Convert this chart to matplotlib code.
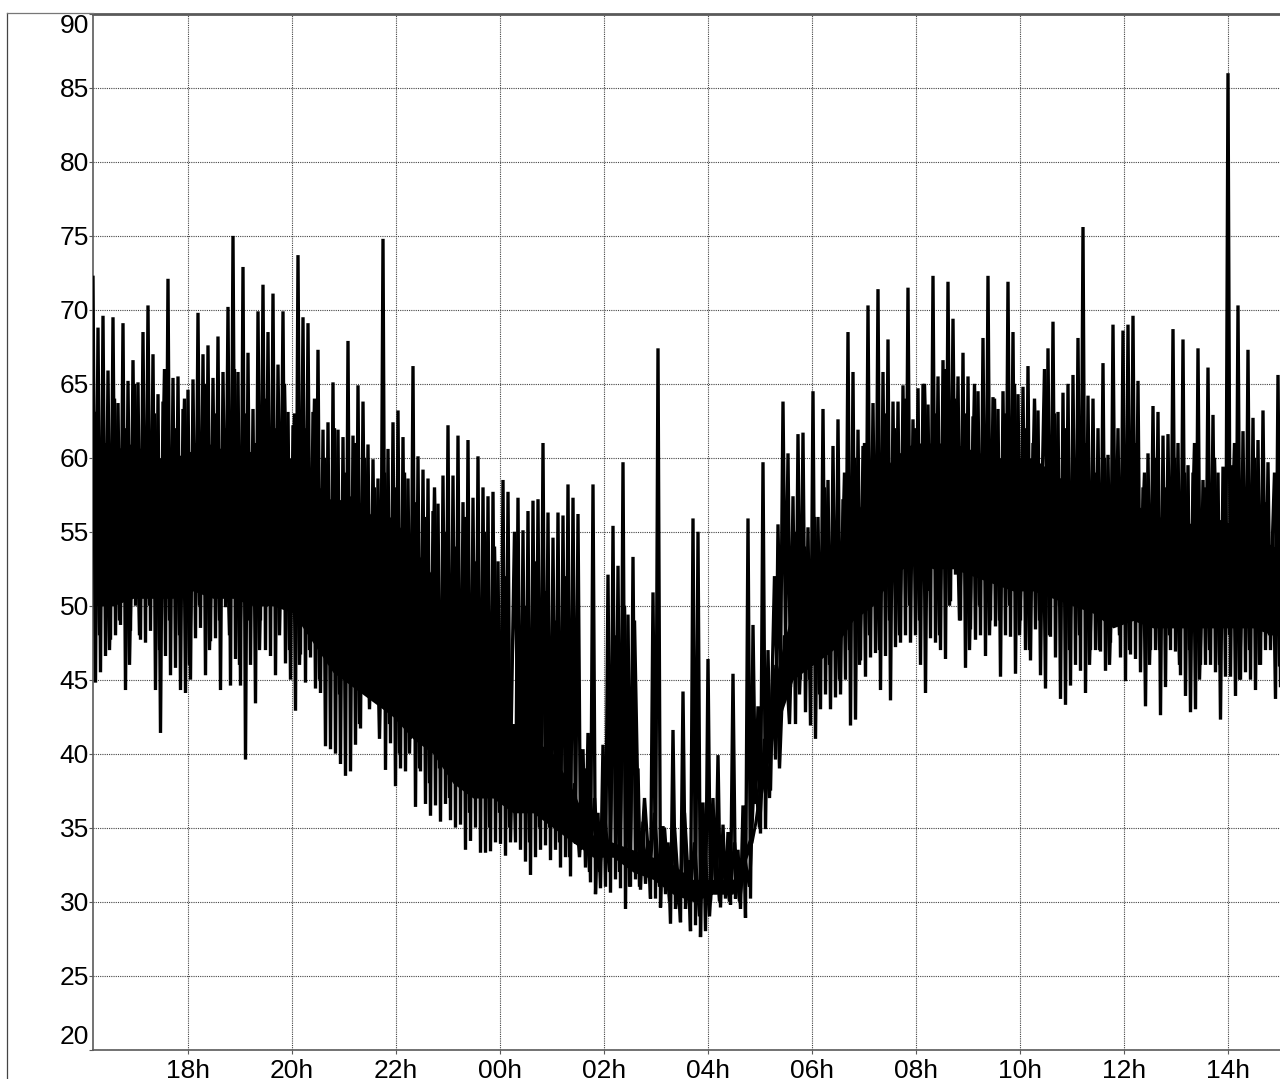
import matplotlib
matplotlib.use("Agg")
import numpy as np
import matplotlib.pyplot as plt
from matplotlib.lines import Line2D

plt.rcParams['font.family'] = ['Liberation Sans', 'DejaVu Sans']

# upper and lower swings of the trace, left to right
peaks = [
    72.2, 68.8, 69.6, 65.9, 69.5, 63.7, 69.1, 65.2, 66.6, 65.1,
    68.5, 70.3, 67.0, 64.3, 63.8, 72.1, 65.4, 65.5, 63.3, 64.6,
    65.3, 69.8, 67.0, 67.6, 65.4, 68.2, 65.8, 70.2, 75.0, 65.8,
    72.9, 67.1, 63.3, 69.9, 71.7, 68.5, 71.1, 66.3, 69.9, 63.1,
    62.2, 73.7, 69.5, 69.1, 63.1, 67.3, 61.9, 62.4, 65.1, 61.9,
    61.4, 67.9, 61.5, 64.9, 63.8, 60.9, 59.9, 58.6, 74.8, 60.6,
    62.4, 63.2, 61.4, 58.6, 66.2, 60.1, 59.2, 58.6, 56.4, 56.9,
    58.8, 62.2, 58.8, 61.5, 57.0, 61.2, 57.3, 60.1, 58.0, 57.4,
    57.7, 53.0, 58.5, 57.7, 42.0, 57.3, 55.1, 56.4, 57.1, 57.2,
    61.0, 56.3, 54.6, 56.3, 56.1, 58.2, 57.3, 56.2, 40.3, 41.4,
    58.2, 36.0, 40.6, 52.1, 55.4, 52.7, 59.7, 49.4, 53.3, 39.0,
    35.4, 34.1, 50.9, 67.4, 35.1, 34.0, 41.6, 31.5, 44.2, 32.8,
    55.9, 55.0, 36.7, 46.4, 37.0, 39.9, 35.2, 34.7, 45.4, 33.5,
    36.5, 55.9, 48.7, 43.2, 59.7, 47.0, 46.0, 55.5, 63.8, 60.3,
    57.4, 61.6, 61.7, 55.3, 64.5, 56.0, 63.3, 58.5, 60.8, 62.6,
    57.2, 68.5, 65.8, 61.9, 60.8, 70.3, 63.7, 71.4, 65.8, 68.0,
    63.8, 63.8, 64.9, 71.5, 62.6, 64.7, 65.0, 63.6, 72.3, 65.5,
    66.6, 71.9, 69.4, 65.5, 67.1, 65.5, 62.8, 64.5, 68.1, 72.3,
    64.1, 63.3, 64.5, 71.9, 68.5, 64.3, 64.8, 66.2, 61.0, 63.2,
    59.1, 67.4, 69.2, 63.1, 64.4, 65.0, 65.6, 68.1, 75.6, 64.2,
    64.0, 62.0, 66.4, 60.2, 69.0, 62.0, 68.6, 69.0, 69.6, 65.2,
    58.0, 60.3, 63.5, 63.1, 61.5, 61.6, 68.7, 61.0, 68.0, 59.5,
    59.0, 67.4, 58.5, 66.1, 62.9, 59.0, 59.4, 86.0, 59.5, 70.3,
    61.8, 67.3, 62.7, 61.2, 63.2, 59.7, 55.0, 65.6,
]
troughs = [
    44.8, 45.5, 46.6, 47.7, 48.0, 48.7, 44.3, 48.3, 50.0, 47.7,
    47.5, 48.3, 44.3, 41.4, 46.6, 45.3, 45.8, 44.3, 44.1, 45.0,
    47.8, 48.5, 45.3, 47.6, 47.8, 44.3, 49.9, 44.6, 46.4, 44.6,
    39.6, 46.0, 43.4, 49.0, 47.0, 46.6, 45.3, 51.3, 46.1, 45.0,
    42.9, 46.7, 44.8, 46.5, 44.4, 44.1, 40.5, 40.3, 40.0, 39.3,
    38.5, 38.8, 40.6, 41.7, 45.3, 44.1, 43.7, 43.5, 38.9, 40.7,
    37.8, 39.0, 38.8, 41.0, 36.4, 38.8, 36.6, 35.8, 36.5, 35.4,
    36.6, 35.5, 35.0, 35.2, 33.5, 34.1, 35.0, 33.3, 33.3, 33.4,
    34.0, 33.9, 33.1, 34.0, 34.0, 33.5, 32.7, 31.8, 33.0, 33.5,
    33.8, 32.8, 33.5, 32.3, 33.0, 31.7, 33.9, 33.5, 32.3, 31.3,
    30.5, 30.9, 31.0, 30.6, 31.5, 30.9, 29.5, 31.0, 31.5, 30.8,
    31.2, 30.2, 30.2, 29.6, 30.5, 28.5, 29.5, 28.6, 29.5, 28.0,
    28.4, 27.6, 28.0, 30.0, 30.5, 29.6, 30.2, 29.8, 30.2, 29.5,
    28.9, 30.2, 36.6, 34.6, 34.9, 37.5, 39.6, 45.2, 47.4, 44.5,
    42.0, 45.0, 42.8, 41.9, 41.0, 43.0, 44.0, 43.0, 43.8, 44.0,
    45.0, 41.9, 42.3, 46.3, 45.2, 46.5, 46.8, 44.3, 46.6, 43.6,
    47.2, 47.5, 48.0, 47.5, 48.0, 46.0, 44.1, 47.8, 47.5, 47.0,
    46.4, 50.3, 52.1, 49.0, 45.8, 48.4, 47.7, 48.0, 46.6, 49.0,
    48.6, 45.2, 48.0, 47.9, 45.4, 49.0, 47.0, 46.3, 48.4, 45.3,
    44.4, 47.9, 46.5, 43.7, 43.3, 44.6, 46.0, 45.6, 44.1, 47.0,
    47.0, 46.9, 45.6, 47.5, 50.0, 46.5, 44.9, 46.7, 46.4, 45.5,
    43.2, 47.0, 47.0, 42.6, 44.5, 47.0, 46.9, 45.3, 43.9, 42.8,
    43.0, 46.0, 46.0, 46.0, 45.5, 42.3, 45.2, 45.2, 43.9, 45.0,
    45.5, 45.0, 44.3, 46.0, 47.0, 47.0, 43.7, 44.6,
]
# smaller swings that sit between the big ones, one pair every 10 px
inner_highs = [
    63, 61, 64, 62, 65, 61, 63, 66, 62, 64, 61, 65, 63, 62, 66, 63, 61, 64, 62, 65, 63,
    62, 64, 60, 62, 59, 61, 60, 58, 59, 58,
    59, 57, 56, 58, 55, 54, 56, 53, 55, 54,
    52, 55, 50, 53, 51, 49, 52, 38, 39, 37,
    36, 48, 50, 49, 37, 36, 35, 35, 36, 34,
    34, 35, 33, 34, 33, 39, 41, 52, 48, 55,
    54, 56, 58, 55, 59, 60, 61, 60, 63, 62,
    64, 62, 65, 63, 66, 64, 63, 65, 62, 64,
    63, 65, 62, 64, 66, 63, 62, 60, 61, 59,
    60, 58, 60, 61, 59, 60, 58, 60, 59, 61,
    58, 60, 59, 61, 58, 60, 57, 59,
]
inner_lows = [
    48, 47, 49, 46, 48, 50, 47, 49, 48, 46, 50, 47, 49, 48, 46, 49, 47, 50, 48, 47, 46,
    47, 45, 46, 44, 45, 42, 43, 41, 42, 40,
    40, 39, 38, 39, 37, 38, 36, 37, 35, 36,
    35, 36, 34, 35, 35, 34, 33, 33, 32, 32,
    32, 32, 31, 31, 32, 31, 30, 30, 30, 29,
    29, 30, 30, 30, 31, 35, 37, 39, 42, 44,
    45, 44, 46, 45, 47, 46, 48, 47, 49, 48,
    50, 49, 51, 48, 50, 49, 47, 50, 48, 49,
    50, 48, 47, 49, 48, 50, 47, 48, 46, 47,
    46, 48, 47, 49, 46, 47, 48, 46, 47, 45,
    47, 46, 48, 45, 47, 46, 48, 46,
]
# edges of the solid black core where the trace overlaps itself
core_top = [
    60.0, 60.5, 61.0, 60.0, 60.0, 60.5, 61.0, 60.0, 60.5, 60.0,
    60.0, 58.5, 57.0, 57.5, 56.0, 56.0, 54.0, 52.0, 47.0, 46.0,
    45.0, 40.0, 41.0, 40.0, 37.5, 34.5, 34.0, 33.5, 33.0, 32.5,
    31.5, 31.5, 31.5, 35.0, 44.5, 50.0, 52.0, 53.0, 56.0, 58.0,
    60.0, 61.0, 61.0, 61.0, 60.5, 60.0, 60.0, 60.0, 59.0, 58.0,
    57.0, 56.0, 57.0, 56.0, 56.0, 55.5, 56.0, 55.5, 55.0, 54.0, 54.0,
]
core_bottom = [
    50.0, 50.0, 50.5, 50.5, 50.5, 51.0, 50.5, 50.5, 50.0, 50.0,
    49.5, 47.5, 45.5, 44.5, 43.5, 42.5, 41.0, 40.0, 38.0, 37.0,
    37.0, 36.0, 36.0, 35.0, 34.0, 33.0, 33.0, 32.0, 31.5, 30.5,
    30.0, 30.5, 30.5, 34.0, 41.0, 45.0, 46.0, 47.0, 49.0, 50.0,
    52.0, 53.0, 52.5, 52.5, 52.0, 51.5, 51.0, 51.0, 50.5, 50.0,
    49.5, 48.5, 49.0, 48.5, 48.5, 48.5, 48.5, 48.5, 48.5, 48.0, 48.0,
]
hour_ticks = [18, 20, 22, 24, 26, 28, 30, 32, 34, 36, 38]
hour_labels = ['18h', '20h', '22h', '00h', '02h', '04h', '06h', '08h', '10h', '12h', '14h']
value_ticks = [20, 25, 30, 35, 40, 45, 50, 55, 60, 65, 70, 75, 80, 85, 90]

W, H = 1280, 1079
AX_L, AX_R, AX_T, AX_B = 93, 1280, 14, 1049.5
X_START = 18 - 95 / 52
X_END = 39.0
GREY = '#5a5a5a'


def zigzag(highs, lows):
    out = np.empty(len(highs) + len(lows))
    out[0::2] = highs
    out[1::2] = lows
    return out


def main():
    values = zigzag(peaks, troughs)
    inner = zigzag(inner_highs, inner_lows)
    # big swings every 2.5 px along the axis, smaller ones every 5 px, core every 20 px
    hours = X_START + np.arange(len(values)) * 2.5 / 52
    inner_hours = X_START + (1.5 + np.arange(len(inner)) * 5) / 52
    core_hours = X_START + np.arange(len(core_top)) * 20 / 52

    fig = plt.figure(figsize=(W / 100, H / 100), dpi=100)
    ax = fig.add_axes([AX_L / W, 1 - AX_B / H, (AX_R - AX_L) / W, (AX_B - AX_T) / H])

    ax.fill_between(core_hours, core_bottom, core_top, color='black', lw=0, zorder=2)
    ax.plot(inner_hours, inner, color='black', lw=2.4, solid_joinstyle='bevel', zorder=3)
    ax.plot(hours, values, color='black', lw=2.4, solid_joinstyle='bevel', zorder=3)

    ax.set_xlim(X_START, X_END)
    ax.set_ylim(20, 90)
    ax.set_xticks(hour_ticks)
    ax.set_xticklabels(hour_labels)
    ax.set_yticks(value_ticks)
    ax.grid(True, color='#444444', lw=0.8, linestyle=(0, (1, 1)), zorder=1)
    ax.tick_params(axis='both', labelsize=19, length=3, width=0.8, color=GREY)
    ax.tick_params(axis='x', pad=4)
    ax.tick_params(axis='y', pad=0)

    labels = ax.get_yticklabels()
    labels[0].set_va('bottom')
    labels[-1].set_va('top')

    ax.spines['right'].set_visible(False)
    ax.spines['left'].set_color(GREY)
    ax.spines['left'].set_linewidth(1.2)
    ax.spines['bottom'].set_color(GREY)
    ax.spines['bottom'].set_linewidth(1.2)
    ax.spines['top'].set_color(GREY)
    ax.spines['top'].set_linewidth(2.0)

    # outer frame on the left of the tick labels
    fig.add_artist(Line2D([7 / W, 7 / W], [0, 1 - 13 / H], color='#444444', lw=0.9))
    fig.add_artist(Line2D([7 / W, AX_L / W], [1 - 13 / H, 1 - 13 / H], color='#777777', lw=0.9))

    fig.savefig('out.png', dpi=100)


if __name__ == "__main__":
    main()
